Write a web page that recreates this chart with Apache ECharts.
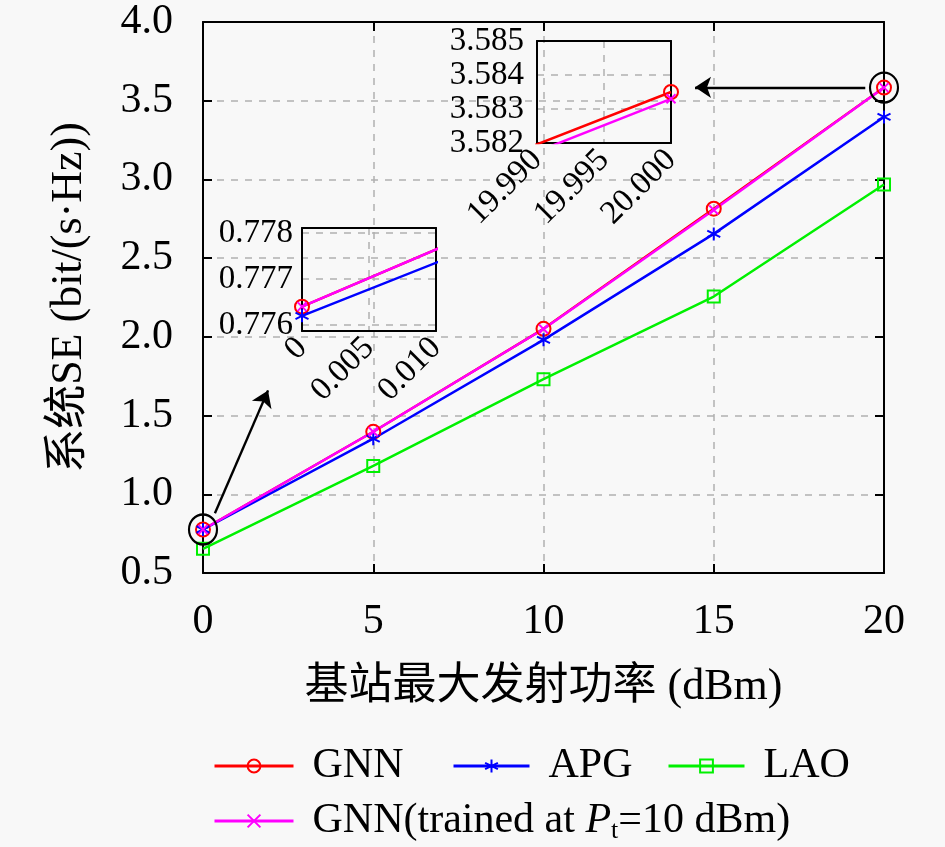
<!DOCTYPE html>
<html>
<head>
<meta charset="utf-8">
<script src="https://cdn.jsdelivr.net/npm/echarts@6/dist/echarts.min.js"></script>
<style>
  html, body { margin: 0; padding: 0; background: #f8f8f8; }
  #chart { width: 945px; height: 847px; }
</style>
</head>
<body>
<div id="chart"></div>
<script>
// 数据
var power = [0, 5, 10, 15, 20];
var gnn = [0.7764, 1.397, 2.051, 2.814, 3.5835];
var apg = [0.7762, 1.353, 1.981, 2.654, 3.397];
var lao = [0.654, 1.180, 1.731, 2.256, 2.968];
var gnnTrained = [0.7764, 1.397, 2.050, 2.806, 3.5833];
var inset1YTicks = [0.776, 0.777, 0.778];
var circled = [0, 4];
// 箭头 (数据坐标)
var arrowLow = [[0.35, 0.88], [1.91, 1.66]];
var arrowHigh = [[19.45, 3.585], [14.45, 3.585]];

var FONT = "'Liberation Serif', 'Noto Sans CJK SC', serif";
var TRAINED = 'GNN(trained at Pt=10 dBm)';

function pairs(ys) {
  return power.map(function (x, i) { return [x, ys[i]]; });
}

var looks = [
  { name: 'GNN', ys: gnn, color: '#ff0000', symbol: 'circle', size: 14, hollow: true },
  { name: 'APG', ys: apg, color: '#0000ff',
    symbol: 'path://M0,-1L0,1M-0.87,-0.5L0.87,0.5M-0.87,0.5L0.87,-0.5', size: 13, hollow: false },
  { name: 'LAO', ys: lao, color: '#00f000', symbol: 'rect', size: 12, hollow: true },
  { name: TRAINED, ys: gnnTrained, color: '#ff00ff',
    symbol: 'path://M-1,-1L1,1M-1,1L1,-1', size: 9, hollow: false }
];

// 轴序号: 主图 0/1, 左下小图 2/3, 右上小图 4/5
var series = [];
[0, 2, 4].forEach(function (ax) {
  looks.forEach(function (s) {
    series.push({
      name: s.name,
      type: 'line',
      xAxisIndex: ax,
      yAxisIndex: ax,
      data: pairs(s.ys),
      symbol: s.symbol,
      symbolSize: s.size,
      showAllSymbol: true,
      clip: true,
      lineStyle: { color: s.color, width: 2.5 },
      itemStyle: {
        color: s.hollow ? 'rgba(0,0,0,0)' : s.color,
        borderColor: s.color,
        borderWidth: 2
      },
      emphasis: { disabled: true },
      z: 3
    });
  });
});

// 黑圈 + 箭头
series.push({
  name: 'zoom',
  type: 'scatter',
  xAxisIndex: 0,
  yAxisIndex: 0,
  data: circled.map(function (i) { return [power[i], gnn[i]]; }),
  symbol: 'circle',
  symbolSize: [28, 30],
  itemStyle: { color: 'rgba(0,0,0,0)', borderColor: '#000', borderWidth: 2.2, opacity: 1 },
  silent: true,
  z: 5,
  markLine: {
    silent: true,
    symbol: ['none', 'arrow'],
    symbolSize: 16,
    label: { show: false },
    itemStyle: { color: '#000' },
    lineStyle: { color: '#000', width: 2.4, type: 'solid', opacity: 1 },
    emphasis: { disabled: true },
    data: [
      [{ coord: arrowLow[0] }, { coord: arrowLow[1] }],
      [{ coord: arrowHigh[0] }, { coord: arrowHigh[1] }]
    ]
  }
});

var dashed = { show: true, lineStyle: { color: '#b0b0b0', width: 1.5, type: [7, 7] } };
var blackLine = { show: true, onZero: false, lineStyle: { color: '#000', width: 2 } };
var inTick = { show: true, inside: true, length: 9, lineStyle: { color: '#000', width: 2 } };
var noLabel = { show: false };
var noTick = { show: false };
var noSplit = { show: false };

function legendAt(name, left, top, width) {
  return {
    data: [name],
    left: left,
    top: top,
    itemWidth: width,
    itemHeight: 16,
    selectedMode: false,
    lineStyle: { width: 3 },
    textStyle: {
      fontFamily: FONT, fontSize: 42, color: '#000', padding: [0, 0, 0, 14],
      rich: {
        i: { fontFamily: FONT, fontSize: 42, fontStyle: 'italic', color: '#000' },
        s: { fontFamily: FONT, fontSize: 26, color: '#000', padding: [20, 0, 0, 0] }
      }
    },
    formatter: function (n) {
      return n === TRAINED ? 'GNN(trained at {i|P}{s|t}=10 dBm)' : n;
    }
  };
}

function insetLabel(fmt, rotate, margin) {
  return {
    fontFamily: FONT, fontSize: 33, color: '#000', rotate: rotate, margin: margin,
    formatter: fmt
  };
}

var myChart = echarts.init(document.getElementById('chart'));
var option = {
  backgroundColor: '#f8f8f8',
  animation: false,
  textStyle: { fontFamily: FONT },
  grid: [
    { left: 203, right: 61, top: 22, bottom: 274 },
    { left: 302, top: 228, width: 134, height: 103 },
    { left: 537, top: 41, width: 134, height: 102 }
  ],
  xAxis: [
    {
      type: 'value', gridIndex: 0, min: 0, max: 20, interval: 5,
      name: '基站最大发射功率 (dBm)', nameLocation: 'middle', nameGap: 92,
      nameTextStyle: { fontFamily: FONT, fontSize: 44, color: '#000' },
      axisLine: blackLine, axisTick: inTick, splitLine: dashed,
      axisLabel: { fontFamily: FONT, fontSize: 42, color: '#000', margin: 28 }
    },
    {
      type: 'value', gridIndex: 0, position: 'top', min: 0, max: 20, interval: 5,
      axisLine: blackLine, axisTick: inTick, splitLine: noSplit, axisLabel: noLabel
    },
    {
      type: 'value', gridIndex: 1, min: 0, max: 0.01, interval: 0.005,
      axisLine: blackLine, axisTick: noTick, splitLine: dashed,
      axisLabel: insetLabel(function (v) { return v === 0 ? '0' : v.toFixed(3); }, 45, 12)
    },
    {
      type: 'value', gridIndex: 1, position: 'top', min: 0, max: 0.01, interval: 0.005,
      axisLine: blackLine, axisTick: noTick, splitLine: noSplit, axisLabel: noLabel
    },
    {
      type: 'value', gridIndex: 2, min: 19.99, max: 20, interval: 0.005,
      axisLine: blackLine, axisTick: noTick, splitLine: dashed,
      axisLabel: insetLabel(function (v) { return v.toFixed(3); }, 45, 12)
    },
    {
      type: 'value', gridIndex: 2, position: 'top', min: 19.99, max: 20, interval: 0.005,
      axisLine: blackLine, axisTick: noTick, splitLine: noSplit, axisLabel: noLabel
    }
  ],
  yAxis: [
    {
      type: 'value', gridIndex: 0, min: 0.5, max: 4, interval: 0.5,
      name: '系统SE (bit/(s·Hz))', nameLocation: 'middle', nameGap: 112,
      nameTextStyle: { fontFamily: FONT, fontSize: 44, color: '#000' },
      axisLine: blackLine, axisTick: inTick, splitLine: dashed,
      axisLabel: {
        fontFamily: FONT, fontSize: 42, color: '#000', margin: 30,
        formatter: function (v) { return v.toFixed(1); }
      }
    },
    {
      type: 'value', gridIndex: 0, position: 'right', min: 0.5, max: 4, interval: 0.5,
      axisLine: blackLine, axisTick: inTick, splitLine: noSplit, axisLabel: noLabel
    },
    {
      type: 'value', gridIndex: 1, min: 0.77587, max: 0.77811,
      axisLine: blackLine,
      axisTick: { show: false, customValues: inset1YTicks },
      splitLine: dashed,
      axisLabel: {
        customValues: inset1YTicks,
        fontFamily: FONT, fontSize: 33, color: '#000', margin: 9,
        formatter: function (v) { return v.toFixed(3); }
      }
    },
    {
      type: 'value', gridIndex: 1, position: 'right', min: 0.77587, max: 0.77811,
      axisLine: blackLine, axisTick: noTick, splitLine: noSplit, axisLabel: noLabel
    },
    {
      type: 'value', gridIndex: 2, min: 3.582, max: 3.585, interval: 0.001,
      axisLine: blackLine, axisTick: noTick, splitLine: dashed,
      axisLabel: insetLabel(function (v) { return v.toFixed(3); }, 0, 13)
    },
    {
      type: 'value', gridIndex: 2, position: 'right', min: 3.582, max: 3.585, interval: 0.001,
      axisLine: blackLine, axisTick: noTick, splitLine: noSplit, axisLabel: noLabel
    }
  ],
  legend: [
    legendAt('GNN', 208, 740, 79),
    legendAt('APG', 447, 740, 76),
    legendAt('LAO', 662, 740, 76),
    legendAt(TRAINED, 208, 795, 79)
  ],
  series: series
};
myChart.setOption(option);
</script>
</body>
</html>
